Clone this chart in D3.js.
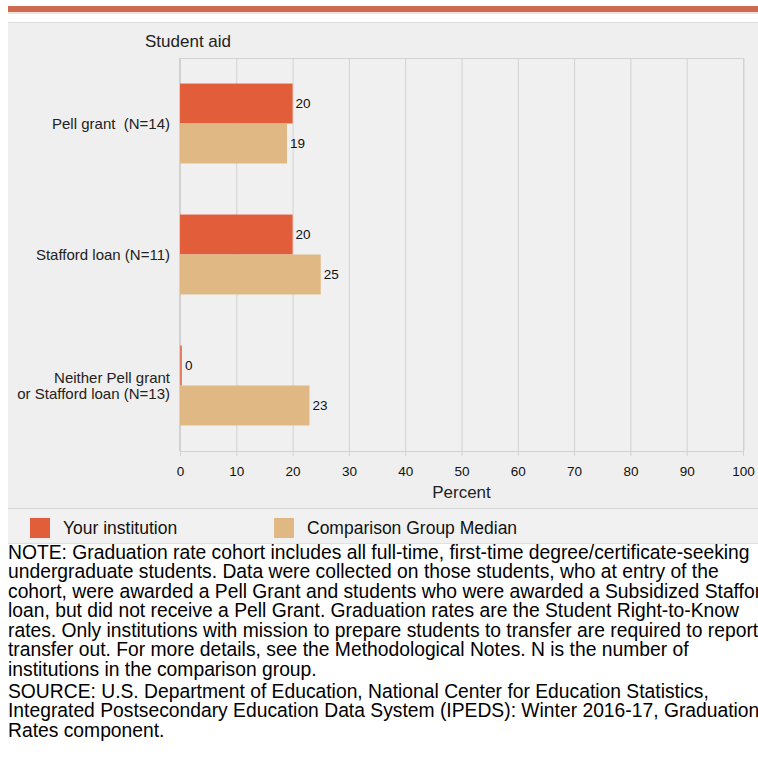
<!DOCTYPE html>
<html>
<head>
<meta charset="utf-8">
<script src="https://cdn.jsdelivr.net/npm/d3@7"></script>
<style>
  html, body { margin: 0; padding: 0; background: #ffffff; }
  svg { display: block; font-family: "Liberation Sans", Arial, sans-serif; }
  .pre { white-space: pre; }
</style>
</head>
<body>
<svg id="chart" width="758" height="759"></svg>
<script>
// Graduation rates by type of student aid received
const categories = ["Pell grant", "Stafford loan", "Neither"];
const categoryLabels = [["Pell grant  (N=14)"], ["Stafford loan (N=11)"], ["Neither Pell grant", "or Stafford loan (N=13)"]];
const seriesNames = ["Your institution", "Comparison Group Median"];
const yourInstitution = [20, 20, 0];
const comparisonMedian = [19, 25, 23];
const xTicks = [0, 10, 20, 30, 40, 50, 60, 70, 80, 90, 100];
const noteLines = [
  "NOTE: Graduation rate cohort includes all full-time, first-time degree/certificate-seeking",
  "undergraduate students. Data were collected on those students, who at entry of the",
  "cohort, were awarded a Pell Grant and students who were awarded a Subsidized Stafford",
  "loan, but did not receive a Pell Grant. Graduation rates are the Student Right-to-Know",
  "rates. Only institutions with mission to prepare students to transfer are required to report",
  "transfer out. For more details, see the Methodological Notes. N is the number of",
  "institutions in the comparison group."
];
const sourceLines = [
  "SOURCE: U.S. Department of Education, National Center for Education Statistics,",
  "Integrated Postsecondary Education Data System (IPEDS): Winter 2016-17, Graduation",
  "Rates component."
];

const colors = ["#E25E3B", "#DFB884"];

const svg = d3.select("#chart");

// header rule and panel
svg.append("rect").attr("x", 8).attr("y", 6).attr("width", 750).attr("height", 6).attr("fill", "#CD6A50");
svg.append("rect").attr("x", 8).attr("y", 12).attr("width", 750).attr("height", 2).attr("fill", "#F6E3DD");
svg.append("rect").attr("x", 8).attr("y", 22).attr("width", 750).attr("height", 486).attr("fill", "#EFEFEF");
svg.append("line").attr("x1", 8).attr("x2", 758).attr("y1", 22.5).attr("y2", 22.5).attr("stroke", "#DCDCDC");

const plot = { left: 180, right: 743, top: 58, bottom: 451 };

const x = d3.scaleLinear().domain([0, 100]).range([plot.left, plot.right]);
const y = d3.scaleBand().domain(categories).range([plot.top, plot.bottom])
  .paddingInner(0.39).paddingOuter(0.195);
const ySub = d3.scaleBand().domain(seriesNames).range([0, y.bandwidth()]);

// plot area
svg.append("rect").attr("x", plot.left).attr("y", plot.top)
  .attr("width", plot.right - plot.left).attr("height", plot.bottom - plot.top)
  .attr("fill", "#F0F0F0");

// vertical gridlines
const grid = svg.append("g").attr("transform", `translate(0,${plot.bottom})`)
  .call(d3.axisBottom(x).tickValues(xTicks).tickSize(-(plot.bottom - plot.top)).tickFormat(""));
grid.select(".domain").remove();
grid.selectAll(".tick line").attr("stroke", "#D2D2D2").attr("stroke-width", 1);

svg.append("line").attr("x1", plot.left).attr("x2", plot.right)
  .attr("y1", plot.top + 0.5).attr("y2", plot.top + 0.5).attr("stroke", "#D2D2D2");
svg.append("line").attr("x1", plot.right + 1.5).attr("x2", plot.right + 1.5)
  .attr("y1", plot.top).attr("y2", plot.bottom).attr("stroke", "#E2E2E2");

// bars
const rows = categories.map((c, i) => ({ cat: c, values: [yourInstitution[i], comparisonMedian[i]] }));
const groups = svg.append("g").selectAll("g").data(rows).join("g")
  .attr("transform", d => `translate(0,${y(d.cat)})`);

groups.selectAll("rect").data(d => d.values.map((v, j) => ({ v, j })))
  .join("rect")
  .attr("x", x(0))
  .attr("y", d => ySub(seriesNames[d.j]))
  .attr("height", ySub.bandwidth())
  .attr("width", d => Math.max(x(d.v) - x(0), 2))
  .attr("fill", d => colors[d.j])
  .attr("opacity", d => d.v === 0 ? 0.75 : 1);

groups.selectAll("text").data(d => d.values.map((v, j) => ({ v, j })))
  .join("text")
  .attr("x", d => Math.max(x(d.v), x(0) + 2) + 3)
  .attr("y", d => ySub(seriesNames[d.j]) + ySub.bandwidth() / 2)
  .attr("dy", "0.35em")
  .attr("font-size", 13.5)
  .attr("fill", "#111")
  .text(d => d.v);

// x axis
const xAxis = svg.append("g").attr("transform", `translate(0,${plot.bottom})`)
  .call(d3.axisBottom(x).tickValues(xTicks).tickSize(5).tickPadding(10));
xAxis.select(".domain").attr("stroke", "#D2D2D2");
xAxis.selectAll(".tick line").attr("stroke", "#D2D2D2");
xAxis.selectAll(".tick text").attr("font-size", 13.5).attr("fill", "#111")
  .attr("font-family", "\"Liberation Sans\", Arial, sans-serif");

// y axis line
svg.append("line").attr("x1", plot.left - 0.5).attr("x2", plot.left - 0.5)
  .attr("y1", plot.top).attr("y2", plot.bottom).attr("stroke", "#D2D2D2");

// category labels
svg.append("g").selectAll("text").data(categories).join("text")
  .attr("class", "pre")
  .attr("text-anchor", "end")
  .attr("x", 170)
  .attr("y", (d, i) => y(d) + y.bandwidth() / 2 - (categoryLabels[i].length - 1) * 8)
  .attr("font-size", 15)
  .attr("fill", "#222")
  .each(function (d, i) {
    d3.select(this).selectAll("tspan").data(categoryLabels[i]).join("tspan")
      .attr("x", 170)
      .attr("dy", (t, k) => k === 0 ? "0.35em" : "16px")
      .text(t => t);
  });

// titles
svg.append("text").attr("x", 145).attr("y", 47).attr("font-size", 17).attr("fill", "#222").text("Student aid");
svg.append("text").attr("x", x(50)).attr("y", 498).attr("text-anchor", "middle")
  .attr("font-size", 17).attr("fill", "#222").text("Percent");

// legend strip
svg.append("line").attr("x1", 8).attr("x2", 758).attr("y1", 508.5).attr("y2", 508.5).attr("stroke", "#D6D6D6");
svg.append("rect").attr("x", 8).attr("y", 509).attr("width", 750).attr("height", 35).attr("fill", "#F1F1F1");
svg.append("line").attr("x1", 8).attr("x2", 758).attr("y1", 543.5).attr("y2", 543.5).attr("stroke", "#E0E0E0");

const legendX = [30, 274];
const legend = svg.append("g").selectAll("g").data(seriesNames).join("g")
  .attr("transform", (d, i) => `translate(${legendX[i]},518)`);
legend.append("rect").attr("width", 20).attr("height", 20).attr("fill", (d, i) => colors[i]);
legend.append("text").attr("x", 33).attr("y", 10).attr("dy", "0.35em")
  .attr("font-size", 17.5).attr("fill", "#111").text(d => d);

// notes
svg.append("g").selectAll("text").data(noteLines).join("text")
  .attr("x", 8).attr("y", (d, i) => 558.5 + i * 19.5)
  .attr("font-size", 19.3).attr("fill", "#000").text(d => d);
svg.append("g").selectAll("text").data(sourceLines).join("text")
  .attr("x", 8).attr("y", (d, i) => 697.5 + i * 19.5)
  .attr("font-size", 19.3).attr("fill", "#000").text(d => d);
</script>
</body>
</html>
